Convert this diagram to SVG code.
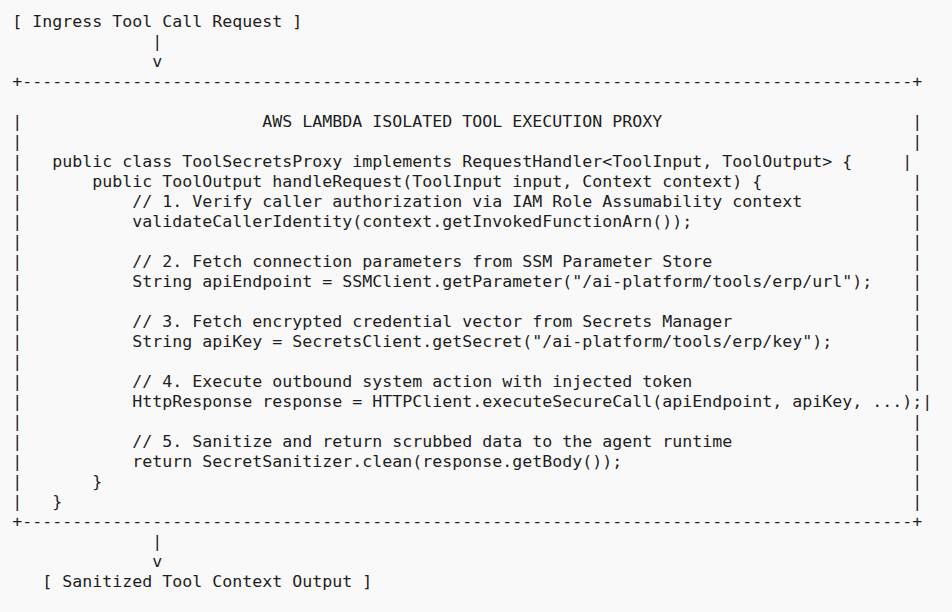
<svg xmlns="http://www.w3.org/2000/svg" width="952" height="612" viewBox="0 0 952 612">
<style>
.t{font-family:"DejaVu Sans Mono","Liberation Mono",monospace;font-size:16.61px;fill:#1e1e1e;white-space:pre}
</style>
<rect x="0" y="0" width="952" height="612" fill="#f9f9f9"/>
<g id="ingress">
<text class="t" x="12.3" y="27">[ Ingress Tool Call Request ]</text>
</g>
<g id="connectors">
<text class="t" x="152.3" y="47">|</text>
<text class="t" x="152.3" y="67">v</text>
<text class="t" x="152.3" y="547">|</text>
<text class="t" x="152.3" y="567">v</text>
</g>
<g id="proxy">
<text class="t" x="12.3" y="87">+-----------------------------------------------------------------------------------------+</text>
<text class="t" x="12.3" y="527">+-----------------------------------------------------------------------------------------+</text>
<g id="left-border">
<text class="t" x="12.3" y="127">|</text>
<text class="t" x="12.3" y="147">|</text>
<text class="t" x="12.3" y="167">|</text>
<text class="t" x="12.3" y="187">|</text>
<text class="t" x="12.3" y="207">|</text>
<text class="t" x="12.3" y="227">|</text>
<text class="t" x="12.3" y="247">|</text>
<text class="t" x="12.3" y="267">|</text>
<text class="t" x="12.3" y="287">|</text>
<text class="t" x="12.3" y="307">|</text>
<text class="t" x="12.3" y="327">|</text>
<text class="t" x="12.3" y="347">|</text>
<text class="t" x="12.3" y="367">|</text>
<text class="t" x="12.3" y="387">|</text>
<text class="t" x="12.3" y="407">|</text>
<text class="t" x="12.3" y="427">|</text>
<text class="t" x="12.3" y="447">|</text>
<text class="t" x="12.3" y="467">|</text>
<text class="t" x="12.3" y="487">|</text>
<text class="t" x="12.3" y="507">|</text>
</g>
<g id="right-border">
<text class="t" x="912.3" y="127">|</text>
<text class="t" x="912.3" y="147">|</text>
<text class="t" x="902.3" y="167">|</text>
<text class="t" x="912.3" y="187">|</text>
<text class="t" x="912.3" y="207">|</text>
<text class="t" x="912.3" y="227">|</text>
<text class="t" x="912.3" y="247">|</text>
<text class="t" x="912.3" y="267">|</text>
<text class="t" x="912.3" y="287">|</text>
<text class="t" x="912.3" y="307">|</text>
<text class="t" x="912.3" y="327">|</text>
<text class="t" x="912.3" y="347">|</text>
<text class="t" x="912.3" y="367">|</text>
<text class="t" x="912.3" y="387">|</text>
<text class="t" x="922.3" y="407">|</text>
<text class="t" x="912.3" y="427">|</text>
<text class="t" x="912.3" y="447">|</text>
<text class="t" x="912.3" y="467">|</text>
<text class="t" x="912.3" y="487">|</text>
<text class="t" x="912.3" y="507">|</text>
</g>
<g id="code">
<text class="t" x="262.3" y="127">AWS LAMBDA ISOLATED TOOL EXECUTION PROXY</text>
<text class="t" x="52.3" y="167">public class ToolSecretsProxy implements RequestHandler&lt;ToolInput, ToolOutput&gt; {</text>
<text class="t" x="92.3" y="187">public ToolOutput handleRequest(ToolInput input, Context context) {</text>
<text class="t" x="132.3" y="207">// 1. Verify caller authorization via IAM Role Assumability context</text>
<text class="t" x="132.3" y="227">validateCallerIdentity(context.getInvokedFunctionArn());</text>
<text class="t" x="132.3" y="267">// 2. Fetch connection parameters from SSM Parameter Store</text>
<text class="t" x="132.3" y="287">String apiEndpoint = SSMClient.getParameter("/ai-platform/tools/erp/url");</text>
<text class="t" x="132.3" y="327">// 3. Fetch encrypted credential vector from Secrets Manager</text>
<text class="t" x="132.3" y="347">String apiKey = SecretsClient.getSecret("/ai-platform/tools/erp/key");</text>
<text class="t" x="132.3" y="387">// 4. Execute outbound system action with injected token</text>
<text class="t" x="132.3" y="407">HttpResponse response = HTTPClient.executeSecureCall(apiEndpoint, apiKey, ...);</text>
<text class="t" x="132.3" y="447">// 5. Sanitize and return scrubbed data to the agent runtime</text>
<text class="t" x="132.3" y="467">return SecretSanitizer.clean(response.getBody());</text>
<text class="t" x="92.3" y="487">}</text>
<text class="t" x="52.3" y="507">}</text>
</g>
</g>
<g id="output">
<text class="t" x="42.3" y="587">[ Sanitized Tool Context Output ]</text>
</g>
</svg>
